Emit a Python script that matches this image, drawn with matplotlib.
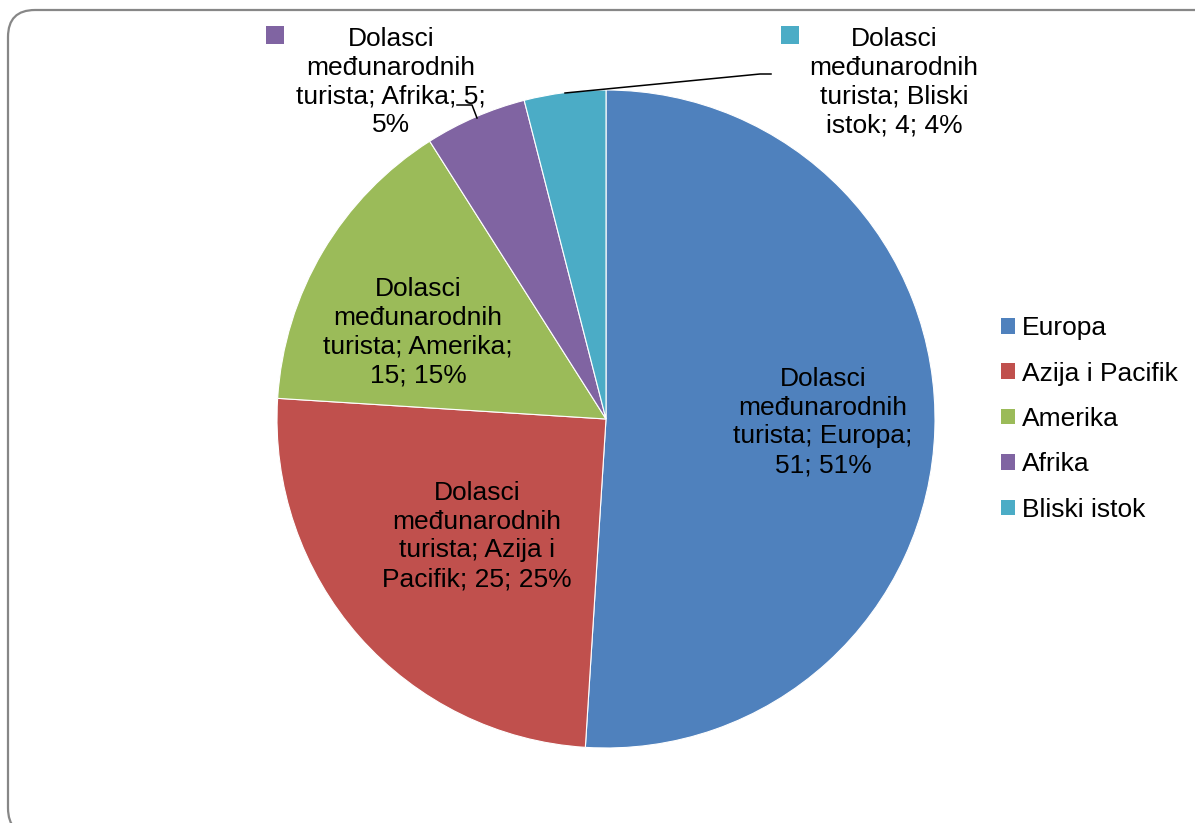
import matplotlib
matplotlib.use("Agg")
import matplotlib.pyplot as plt
from matplotlib.patches import FancyBboxPatch, Patch

categories = ["Europa", "Azija i Pacifik", "Amerika", "Afrika", "Bliski istok"]
values = [51, 25, 15, 5, 4]
colors = ["#4F81BD", "#C0504D", "#9BBB59", "#8064A2", "#4BACC6"]

plt.rcParams['font.family'] = ['Liberation Sans', 'DejaVu Sans']

W, H = 1195, 823
fig = plt.figure(figsize=(W / 100, H / 100), dpi=100)
ax = fig.add_axes([0, 0, 1, 1])

def Y(y):
    return H - y

wedges, _ = ax.pie(values, colors=colors, startangle=90, counterclock=False,
                   center=(606, Y(419)), radius=329,
                   wedgeprops=dict(edgecolor="white", linewidth=0.8))
for w in wedges:
    w.set_zorder(2)

ax.set_xlim(0, W)
ax.set_ylim(0, H)
ax.set_aspect("equal")
ax.set_position([0, 0, 1, 1])
ax.axis("off")

# frame
frame = FancyBboxPatch((8, Y(835)), 1240, 825, boxstyle="round,pad=0,rounding_size=27",
                       fc="white", ec="#878787", lw=1.6, zorder=0)
ax.add_patch(frame)

fs = 19
lbl = [
    (f"Dolasci\nmeđunarodnih\nturista; {categories[0]};\n{values[0]}; {values[0]}%", 823, 422),
    (f"Dolasci\nmeđunarodnih\nturista; Azija i\nPacifik; {values[1]}; {values[1]}%", 477, 536),
    (f"Dolasci\nmeđunarodnih\nturista; {categories[2]};\n{values[2]}; {values[2]}%", 418, 332),
    (f"Dolasci\nmeđunarodnih\nturista; {categories[3]}; {values[3]};\n{values[3]}%", 391, 82),
    (f"Dolasci\nmeđunarodnih\nturista; Bliski\nistok; {values[4]}; {values[4]}%", 894, 82),
]
for t, x, y in lbl:
    ax.text(x, Y(y), t, ha="center", va="center", fontsize=fs, linespacing=1.25,
            color="black", zorder=5)

# legend keys in outside labels
ax.scatter([275], [Y(35)], marker="s", s=150, color=colors[3], zorder=5, linewidths=0)
ax.scatter([790], [Y(35)], marker="s", s=150, color=colors[4], zorder=5, linewidths=0)

# leader lines
ax.plot([457, 472, 477], [Y(105), Y(105), Y(118)], color="black", lw=1.1, zorder=4)
ax.plot([565, 760, 771], [Y(93), Y(74), Y(74)], color="black", lw=1.1, zorder=4)

handles = [Patch(facecolor=c, edgecolor="none") for c in colors]
leg = ax.legend(handles, categories, loc="center left", bbox_to_anchor=(1001 / W, 1 - 419 / H),
                frameon=False, fontsize=fs, handlelength=0.53, handleheight=0.53,
                handletextpad=0.27, labelspacing=0.81, borderaxespad=0, borderpad=0)

fig.savefig("out.png", dpi=100)
